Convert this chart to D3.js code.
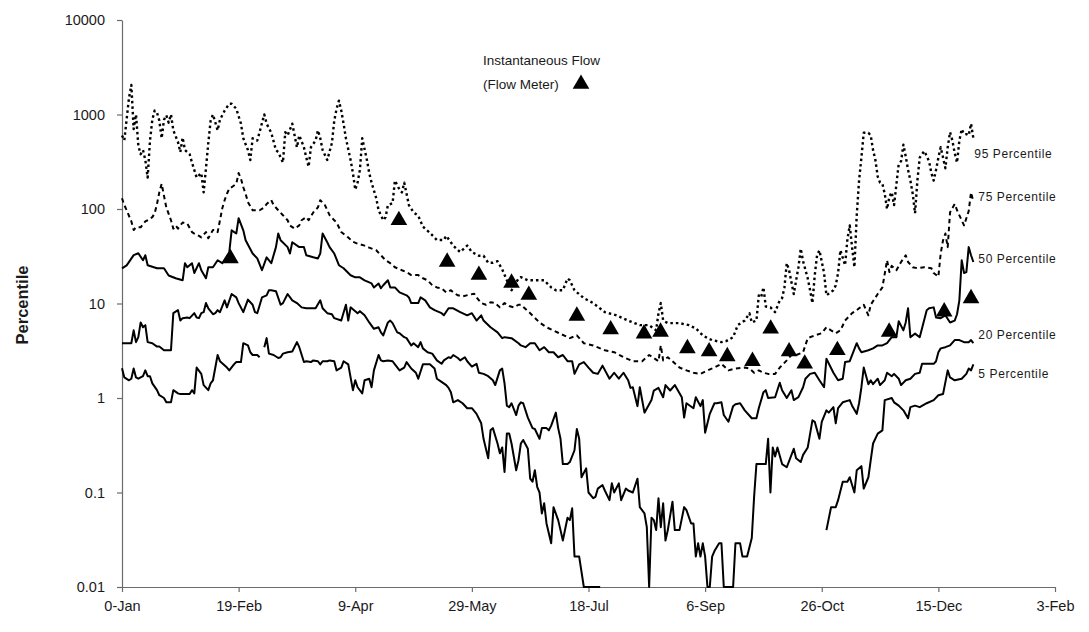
<!DOCTYPE html>
<html><head><meta charset="utf-8">
<script src="https://cdn.jsdelivr.net/npm/d3@7"></script>
<style>body{margin:0;background:#fff}svg{display:block;font-family:"Liberation Sans",Arial,sans-serif}</style>
</head><body>
<svg id="chart" width="1089" height="632"></svg>
<script>
const xTickDays = [0,50,100,150,200,250,300,350,400];
const xTickLabels = ["0-Jan","19-Feb","9-Apr","29-May","18-Jul","6-Sep","26-Oct","15-Dec","3-Feb"];
const yTicks = [0.01,0.1,1,10,100,1000,10000];
const yTickLabels = ["0.01","0.1","1","10","100","1000","10000"];

// [day of year, flow]
const p95 = [[0,600],[1,533],[3,1500],[4,2050],[5,700],[6,1000],[7,470],[8,380],[9,420],[10,330],[11,215],[12,530],[13,880],[14,1100],[15,1050],[16,860],[17,560],[18,880],[19,980],[20,820],[21,1000],[22,680],[24,510],[25,400],[26,570],[27,420],[29,380],[30,310],[32,215],[34,240],[35,150],[36,270],[37,500],[38,860],[39,1000],[41,680],[42,880],[44,1100],[46,1300],[47,1300],[49,1150],[51,800],[52,560],[54,420],[55,330],[56,560],[58,530],[61,1000],[62,800],[64,640],[66,420],[67,400],[69,310],[70,650],[71,600],[73,800],[74,600],[75,450],[76,600],[78,450],[79,350],[80,280],[81,450],[83,530],[84,680],[85,560],[86,420],[88,330],[90,500],[91,860],[92,1150],[93,1400],[94,1100],[95,800],[96,560],[97,430],[98,330],[99,240],[100,160],[101,190],[102,260],[103,560],[104,430],[105,330],[106,240],[107,190],[109,130],[110,97],[112,76],[113,82],[114,110],[116,115],[117,200],[119,160],[120,150],[121,190],[122,145],[123,110],[125,92],[127,85],[129,65],[132,56],[135,47],[138,47],[139,52],[142,41],[145,35],[148,41],[150,35],[153,32],[155,32],[157,27],[159,27],[161,28],[163,23],[165,17.6],[167,13.8],[170,18.4],[171,19],[174,17.6],[177,17.6],[181,17.6],[184,14.8],[186,13.8],[189,13.8],[191,18.4],[192,17.6],[194,13.8],[198,11.4],[202,10.1],[207,8.1],[212,7.5],[217,6.6],[222,5.9],[226,5.9],[229,5.2],[230,7.9],[231,10.1],[232,6.6],[234,6.2],[236,6.2],[239,6.2],[243,5.9],[246,5.45],[249,4.6],[251,4.3],[253,4.1],[257,3.9],[259,4.0],[262,4.4],[264,5.9],[267,6.6],[269,7.9],[270,6.3],[272,6.6],[273,12.2],[274,11.6],[275,14.8],[276,9.3],[278,9.1],[280,8.1],[282,10.8],[283,11.4],[284,14.8],[285,26.7],[286,22.5],[288,12.6],[290,24.2],[291,38],[292,28],[294,18.4],[295,13.8],[296,10.1],[297,19.9],[298,32.4],[299,36.6],[301,21],[302,12.2],[305,13.8],[306,15.6],[307,21],[308,36.6],[310,25.4],[311,48],[312,67],[313,39.5],[314,24.2],[315,86],[316,200],[317,350],[318,640],[319,640],[320,640],[321,600],[322,420],[323,330],[324,220],[325,190],[326,185],[327,145],[328,100],[329,135],[330,150],[331,110],[333,300],[334,320],[335,480],[336,360],[337,260],[338,200],[339,145],[340,90],[341,200],[342,350],[343,380],[344,410],[346,320],[347,240],[348,200],[349,260],[350,350],[351,450],[352,350],[353,270],[354,450],[355,650],[356,530],[357,390],[358,310],[359,530],[360,700],[361,620],[362,620],[363,600],[364,800],[365,560]];

const p75 = [[0,130],[1,110],[2,97],[4,74],[5,60],[6,64],[8,64],[10,74],[11,76],[13,82],[14,90],[15,113],[16,150],[17,185],[18,138],[19,104],[21,76],[22,62],[23,67],[24,62],[26,72],[28,70],[30,57],[31,55],[33,52],[34,50],[36,57],[37,49],[39,60],[40,60],[41,57],[42,76],[43,102],[44,124],[45,145],[46,165],[47,170],[49,185],[50,240],[51,210],[52,170],[53,145],[54,118],[56,97],[58,97],[59,97],[61,104],[62,113],[64,124],[65,110],[67,97],[69,86],[71,76],[72,67],[74,62],[76,67],[77,76],[79,82],[80,76],[82,92],[84,104],[85,124],[87,110],[89,86],[91,76],[92,72],[94,57],[96,52],[97,50],[99,45],[101,43],[104,41],[106,39],[109,36.6],[111,32.4],[113,28.7],[115,26.7],[117,24.2],[120,22.5],[122,21.5],[124,20],[127,20],[129,18.5],[131,17.6],[133,15.6],[135,14.8],[137,14.5],[139,13.1],[141,13.8],[142,13.1],[144,12.2],[146,11.9],[149,12.4],[151,12.7],[152,11.6],[154,10.1],[156,9.7],[158,10.3],[160,10.1],[162,9.1],[164,10.1],[166,9.4],[168,9.1],[170,9.7],[171,9.7],[175,7.9],[179,6.3],[182,5.6],[187,4.9],[192,4.3],[195,4.6],[198,3.8],[202,3.6],[207,3.2],[211,3.05],[215,2.7],[219,2.45],[223,2.45],[226,2.85],[228,2.65],[230,2.45],[231,3.6],[232,2.5],[234,2.7],[236,2.45],[239,2.1],[242,1.96],[245,1.85],[248,1.8],[251,1.96],[254,2.1],[257,2.3],[260,1.96],[263,2.05],[267,2.1],[269,2.05],[271,1.85],[273,1.96],[275,1.85],[277,1.8],[280,1.8],[282,2.1],[285,2.5],[287,2.85],[289,2.85],[292,3.05],[294,4.3],[297,4.6],[300,4.85],[302,5.6],[304,5.2],[306,4.85],[308,5.2],[310,6.6],[313,7.9],[315,8.5],[316,8.9],[318,9.7],[320,7.5],[321,9.7],[324,12.6],[326,14.8],[328,28.7],[329,21.5],[330,25],[332,22.5],[334,27.5],[336,32.4],[337,27.5],[339,24.2],[341,23.6],[344,24.2],[347,23.6],[348,21],[350,19.2],[351,34],[352,46.7],[353,55],[354,39.5],[355,92],[357,113],[358,97],[360,76],[361,67],[363,95],[364,150],[365,120]];

const p50 = [[0,23.5],[2,25.3],[5,32.5],[7,34],[9,28.7],[10,32.4],[11,25.4],[15,23.6],[18,23.6],[20,19.8],[23,18.5],[26,17.6],[27,26.7],[28,24.2],[30,26.7],[31,21],[33,26.7],[34,22.5],[36,18.5],[37,24.2],[39,24.2],[41,28.7],[43,26.7],[46,34.9],[47,59.5],[49,55],[50,80],[52,59.5],[53,46.7],[56,33.8],[58,30],[60,22.5],[62,30.8],[64,26.7],[66,39.5],[67,55],[68,46.7],[71,39.5],[72,33.8],[73,44.5],[76,39.5],[78,39.5],[79,32.4],[82,30.8],[84,30],[85,33.8],[86,55],[88,44.5],[89,39.5],[91,33.8],[93,25.4],[95,23.6],[98,19.9],[100,18.9],[102,18.9],[104,17.6],[107,16.3],[108,14.8],[110,16.3],[111,14.5],[112,15.6],[114,17.6],[115,14.8],[117,14.8],[119,13.1],[122,12.2],[123,11.6],[124,10.1],[127,10.1],[128,11.6],[130,10.8],[132,9.1],[134,8.5],[137,7.9],[138,7.5],[140,8.9],[142,8.9],[145,8.1],[148,7.5],[150,7.9],[152,6.6],[154,7.5],[155,6.6],[158,5.6],[161,4.95],[163,4.3],[164,4.4],[167,4.3],[170,3.8],[171,3.6],[173,3.45],[175,3.8],[177,3.8],[179,3.2],[181,3.45],[183,3.05],[185,3.05],[187,2.7],[189,2.85],[191,2.45],[193,2.45],[194,1.8],[196,2.27],[198,2.4],[200,2.1],[202,1.85],[204,1.8],[206,2.2],[209,1.6],[211,1.85],[213,1.6],[215,1.85],[217,1.54],[218,1.28],[219,1.3],[221,0.82],[222,1.3],[224,0.7],[227,0.95],[228,1.2],[230,1.28],[232,1.02],[233,1.37],[235,1.2],[237,1.37],[240,1.02],[241,0.62],[242,0.88],[245,0.78],[246,1.02],[248,0.82],[249,0.95],[250,0.43],[252,0.68],[254,0.88],[255,0.88],[257,0.9],[258,0.66],[260,0.56],[262,0.82],[263,0.86],[265,0.88],[267,0.74],[270,0.61],[272,0.61],[273,0.78],[275,1.15],[276,1.21],[277,1.0],[280,1.02],[282,1.45],[283,1.21],[285,1.0],[287,1.21],[288,0.95],[290,1.02],[292,1.3],[293,1.6],[295,1.8],[297,1.85],[299,1.54],[301,1.3],[302,2.6],[305,1.85],[307,1.54],[309,1.6],[310,2.4],[312,2.45],[315,3.8],[316,3.35],[317,3.05],[320,3.2],[322,3.35],[324,3.6],[326,3.6],[328,3.8],[330,4.4],[332,4.4],[333,6.5],[335,5.2],[336,6.3],[337,8.9],[338,4.4],[340,4.8],[342,4.4],[345,8.5],[346,8.9],[348,9.1],[349,7.1],[351,7.0],[353,7.5],[355,6.3],[357,6.6],[358,7.7],[359,10.8],[360,28.7],[361,21],[362,21.5],[363,39.5],[364,32.4],[365,27.5]];

const p20 = [[0,3.8],[4,3.8],[5,5.2],[6,3.9],[7,4.4],[8,6.3],[9,5.6],[10,5.9],[11,3.9],[13,3.8],[15,3.5],[16,3.5],[18,3.2],[21,3.2],[22,7.9],[24,8.5],[25,6.6],[26,7.0],[28,7.1],[29,7.0],[31,7.9],[32,7.1],[33,7.0],[34,7.9],[35,8.1],[36,10.1],[37,8.9],[39,7.7],[40,7.9],[41,8.5],[42,8.1],[44,10.8],[45,9.1],[47,12.6],[49,11.6],[50,10.1],[52,8.1],[54,11],[56,9.7],[57,8.1],[58,7.9],[60,11.6],[62,12.2],[63,13.8],[64,13.8],[66,13.5],[68,9.7],[69,10.1],[71,12.6],[73,10.8],[75,10.1],[77,9.1],[79,8.9],[83,8.9],[85,10.8],[86,8.9],[88,7.9],[90,7.7],[91,7.0],[94,6.6],[96,9.7],[97,6.6],[98,9.1],[99,8.7],[101,7.9],[102,8.3],[104,7.5],[106,6.3],[108,5.4],[110,5.6],[111,4.95],[112,4.6],[114,6.3],[115,6.6],[116,6.2],[118,4.95],[119,4.85],[121,4.4],[122,4.3],[124,3.6],[125,3.8],[127,3.45],[128,3.9],[129,3.35],[131,3.05],[133,2.95],[135,2.5],[137,2.3],[138,2.5],[140,2.7],[141,2.65],[142,2.85],[144,2.65],[145,2.5],[147,2.7],[148,2.45],[150,2.15],[152,2.3],[153,1.85],[155,1.8],[157,1.7],[159,1.54],[160,1.37],[162,1.96],[163,2.05],[164,1.43],[165,0.83],[166,0.8],[167,0.88],[169,0.66],[170,0.83],[171,0.9],[172,0.88],[174,0.62],[176,0.48],[177,0.47],[179,0.37],[180,0.48],[182,0.48],[183,0.455],[184,0.51],[186,0.7],[187,0.48],[188,0.37],[189,0.2],[191,0.2],[192,0.21],[194,0.28],[195,0.47],[196,0.37],[197,0.145],[199,0.18],[200,0.1],[202,0.087],[203,0.09],[204,0.11],[206,0.12],[207,0.105],[209,0.083],[210,0.125],[211,0.1],[213,0.125],[214,0.083],[216,0.11],[217,0.105],[219,0.1],[221,0.14],[222,0.07],[224,0.06],[225,0.043],[226,0.01],[227,0.054],[228,0.051],[229,0.04],[230,0.087],[231,0.043],[232,0.077],[233,0.031],[234,0.04],[236,0.08],[237,0.04],[239,0.04],[241,0.07],[242,0.065],[244,0.047],[245,0.047],[246,0.021],[247,0.029],[248,0.021],[249,0.029],[250,0.021],[251,0.01],[252,0.01],[253,0.021],[254,0.024],[256,0.029],[257,0.029],[258,0.01],[262,0.01],[263,0.029],[265,0.029],[266,0.021],[268,0.021],[270,0.033],[271,0.09],[272,0.2],[276,0.2],[277,0.37],[278,0.1],[279,0.3],[280,0.24],[281,0.3],[283,0.2],[285,0.185],[288,0.29],[289,0.23],[291,0.21],[292,0.25],[294,0.3],[296,0.58],[297,0.56],[299,0.37],[300,0.56],[302,0.74],[303,0.7],[305,0.8],[306,0.54],[307,0.78],[309,0.9],[312,0.95],[313,0.83],[315,0.68],[316,0.88],[317,1.3],[318,2.1],[320,1.4],[321,1.54],[322,1.4],[324,1.6],[325,1.37],[327,1.54],[328,1.85],[330,1.7],[331,1.8],[333,1.6],[334,1.37],[336,1.54],[338,1.6],[340,1.8],[342,1.85],[343,2.3],[346,2.3],[348,2.3],[349,2.45],[350,3.05],[351,3.35],[353,3.45],[355,3.6],[357,4.1],[359,4.1],[361,3.9],[363,3.9],[364,4.1],[365,3.8]];

const p5 = [[0,2.06],[1,1.65],[3,1.54],[4,1.6],[5,2.05],[6,1.65],[7,1.6],[9,1.7],[10,1.96],[11,1.7],[12,1.7],[13,1.43],[15,1.21],[16,1.07],[18,1.0],[19,0.9],[21,0.9],[22,1.21],[24,1.12],[25,1.1],[29,1.1],[30,1.21],[31,1.12],[32,2.1],[34,1.8],[35,1.37],[37,1.21],[38,1.43],[39,1.54],[41,2.85],[42,2.45],[45,2.1],[46,1.96],[48,2.27],[49,2.4],[51,2.4],[52,3.8],[54,3.6],[55,3.05],[56,2.85],[58,2.85],[59,2.7],[60,null],[61,3.45],[62,4.3],[63,2.95],[65,2.85],[67,2.65],[68,2.7],[69,2.95],[71,3.05],[73,3.1],[75,3.9],[76,3.45],[78,2.4],[79,2.45],[81,2.4],[82,2.5],[84,2.45],[85,2.27],[86,2.45],[88,2.45],[89,2.5],[91,2.45],[92,1.96],[94,2.1],[95,2.45],[97,2.27],[98,1.65],[99,1.21],[100,1.54],[101,1.3],[103,1.12],[104,1.54],[106,1.6],[107,1.3],[108,1.96],[110,2.85],[111,2.5],[112,2.45],[114,2.5],[116,2.45],[117,2.27],[119,1.96],[121,2.1],[122,2.4],[124,2.05],[126,1.85],[127,1.6],[129,2.27],[131,2.27],[132,2.27],[134,2.05],[135,1.6],[137,1.48],[139,1.37],[140,1.28],[141,1.15],[142,0.9],[144,0.95],[146,0.88],[148,0.78],[150,0.78],[152,0.68],[154,0.54],[155,0.37],[157,0.23],[158,0.455],[159,0.48],[161,0.33],[162,0.26],[163,0.3],[164,0.165],[165,0.42],[166,0.42],[167,0.33],[169,0.172],[170,0.22],[171,0.33],[172,0.36],[174,0.29],[175,0.14],[176,0.13],[177,0.172],[178,0.115],[179,0.1],[180,0.06],[181,0.077],[182,0.047],[184,0.029],[185,0.07],[187,0.051],[188,0.04],[189,0.031],[191,0.054],[192,0.051],[193,0.068],[194,0.021],[196,0.021],[198,0.01],[205,0.01],[206,null],[302,0.04],[304,0.07],[306,0.07],[307,0.083],[309,0.13],[311,0.13],[312,0.145],[314,0.1],[315,0.172],[317,0.19],[318,0.11],[320,0.145],[321,0.22],[322,0.33],[324,0.42],[326,0.455],[327,0.95],[330,1.0],[331,0.9],[333,0.83],[335,0.74],[337,0.61],[338,0.8],[340,0.83],[342,0.8],[345,0.88],[348,0.95],[350,1.07],[352,1.1],[354,1.96],[355,1.65],[357,1.54],[360,1.6],[362,1.8],[363,2.05],[364,1.96],[365,2.27]];

// Instantaneous flow (flow meter)
const flow = [[46.5,30],[118.7,76],[139.4,27.5],[153,20],[167,16.5],[174.4,12.3],[195,7.4],[209.5,5.3],[223.8,4.8],[230.9,5.0],[242.4,3.35],[251.7,3.1],[259.5,2.75],[270.3,2.45],[278.1,5.4],[286,3.1],[292.7,2.3],[306.7,3.2],[328.9,5.0],[352.5,8.2],[364,11.3]];

const seriesNames = ["95 Percentile","75 Percentile","50 Percentile","20 Percentile","5 Percentile"];
const seriesLabelValues = [380,133,30,4.7,1.82];
const legendLines = ["Instantaneous Flow","(Flow Meter)"];

const svg = d3.select("#chart");
const x = d3.scaleLinear().domain([0,400]).range([122,1055]);
const y = d3.scaleLog().domain([0.01,10000]).range([587,20]);
const axisColor = "#6b6b6b";
const textColor = "#1a1a1a";

// axes
const gx = svg.append("g").attr("transform","translate(0,587)")
  .call(d3.axisBottom(x).tickValues(xTickDays).tickFormat((d,i)=>xTickLabels[i]).tickSize(5).tickSizeOuter(0).tickPadding(9));
const gy = svg.append("g").attr("transform","translate(122,0)")
  .call(d3.axisLeft(y).tickValues(yTicks).tickFormat((d,i)=>yTickLabels[i]).tickSize(5).tickSizeOuter(0).tickPadding(12));
[gx,gy].forEach(g=>{
  g.select(".domain").attr("stroke",axisColor).attr("stroke-width",1.2);
  g.selectAll(".tick line").attr("stroke",axisColor).attr("stroke-width",1.2);
  g.selectAll(".tick text").attr("fill",textColor).attr("font-size",14.5).attr("font-family","'Liberation Sans',Arial,sans-serif");
});

svg.append("text").attr("transform","translate(22,305) rotate(-90)")
  .attr("text-anchor","middle").attr("dy","0.35em").attr("font-weight","bold")
  .attr("font-size",16.5).attr("fill",textColor).text("Percentile");

const line = d3.line().defined(d=>d[1]!=null).x(d=>x(d[0])).y(d=>y(d[1]));
const series = [
  {data:p95, dash:"2.5,3", w:2.4},
  {data:p75, dash:"4.5,3.5", w:2},
  {data:p50, dash:null, w:2},
  {data:p20, dash:null, w:2},
  {data:p5, dash:null, w:2}
];
series.forEach(s=>{
  svg.append("path").datum(s.data).attr("d",line)
    .attr("fill","none").attr("stroke","#000").attr("stroke-width",s.w)
    .attr("stroke-linejoin","round")
    .attr("stroke-dasharray",s.dash);
});

const tri = d3.symbol().type(d3.symbolTriangle).size(120);
svg.append("g").selectAll("path").data(flow).join("path")
  .attr("d",tri).attr("transform",d=>`translate(${x(d[0])},${y(d[1])})`).attr("fill","#000");

// right-side series labels
svg.append("g").selectAll("text").data(seriesNames).join("text")
  .attr("x",(d,i)=>x(365)+(i===0?1:5)).attr("y",(d,i)=>y(seriesLabelValues[i]))
  .attr("dy","0.35em").attr("font-size",12).attr("letter-spacing",0.6)
  .attr("fill",textColor).text(d=>d);

// legend
svg.append("g").selectAll("text").data(legendLines).join("text")
  .attr("x",483).attr("y",(d,i)=>65+i*24).attr("font-size",13.5).attr("fill",textColor).text(d=>d);
svg.append("path").attr("d",tri).attr("transform","translate(581,84)").attr("fill","#000");
</script>
</body></html>
